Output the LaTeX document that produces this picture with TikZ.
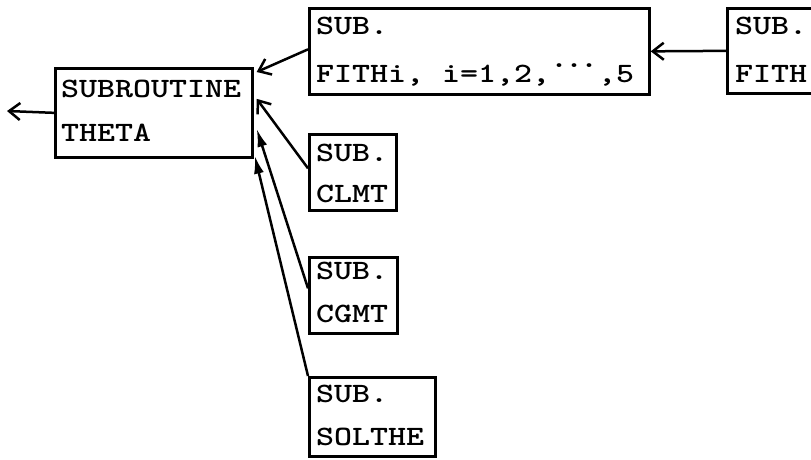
\documentclass[tikz,border=0pt]{standalone}
\usetikzlibrary{arrows.meta}
\newcommand{\tw}[1]{\scalebox{1.224}[1]{\fontsize{28bp}{28bp}\selectfont\ttfamily\bfseries #1}}
\newcommand{\updots}{\raisebox{15bp}{.\hspace{-2.45bp}.\hspace{-2.45bp}.}}
\begin{document}
\begin{tikzpicture}[x=1bp,y=-1bp,
  box/.style={draw, line width=2.7bp, inner sep=0pt, anchor=north west},
  txt/.style={inner sep=0pt, anchor=base west},
  barb/.style={line width=2.5bp, -{Straight Barb[length=11bp,width=17bp,line width=2.5bp]}},
  solid arr/.style={line width=2.5bp, -{Latex[length=18bp,width=10bp]}}]
\useasboundingbox (0,0) rectangle (811,460);
\clip (0,0) rectangle (811,460);
% boxes
\node[box, minimum width=197bp, minimum height=89bp] (theta) at (54,67) {};
\node[box, minimum width=340bp, minimum height=86bp] (fithi) at (308,7) {};
\node[box, minimum width=120bp, minimum height=85bp] (fith) at (726,7) {};
\node[box, minimum width=87bp, minimum height=76bp] (clmt) at (308,133) {};
\node[box, minimum width=88bp, minimum height=76bp] (cgmt) at (308,256) {};
\node[box, minimum width=126bp, minimum height=79bp] (solthe) at (308,376) {};
% texts
\node[txt] (t1) at (61,98) {\tw{SUBROUTINE}};
\node[txt] (t2) at (61,142) {\tw{THETA}};
\node[txt] (f1) at (316,35) {\tw{SUB.}};
\node[txt] (f2) at (316,83) {\tw{FITHi, i=1,2,\updots,5}};
\node[txt] (g1) at (735,35) {\tw{SUB.}};
\node[txt] (g2) at (735,83) {\tw{FITH}};
\node[txt] (c1) at (316,162) {\tw{SUB.}};
\node[txt] (c2) at (316,203) {\tw{CLMT}};
\node[txt] (d1) at (316,280) {\tw{SUB.}};
\node[txt] (d2) at (316,323) {\tw{CGMT}};
\node[txt] (s1) at (316,402) {\tw{SUB.}};
\node[txt] (s2) at (316,445) {\tw{SOLTHE}};
% connectors
\coordinate (out) at (7,111);
\draw[barb] (theta.west) -- (out);
\draw[barb] (fith.west) -- (fithi.east);
\draw[barb] ([yshift=2bp]fithi.west) -- ([xshift=3bp,yshift=-5bp]theta.north east);
\draw[barb] ([yshift=4bp]clmt.west) -- ([xshift=3bp,yshift=14bp]theta.east);
\draw[solid arr] ([yshift=7bp]cgmt.west) -- ([xshift=3bp,yshift=-16bp]theta.east);
\draw[solid arr] (solthe.north west) -- ([xshift=1bp,yshift=3bp]theta.south east);
\end{tikzpicture}
\end{document}
